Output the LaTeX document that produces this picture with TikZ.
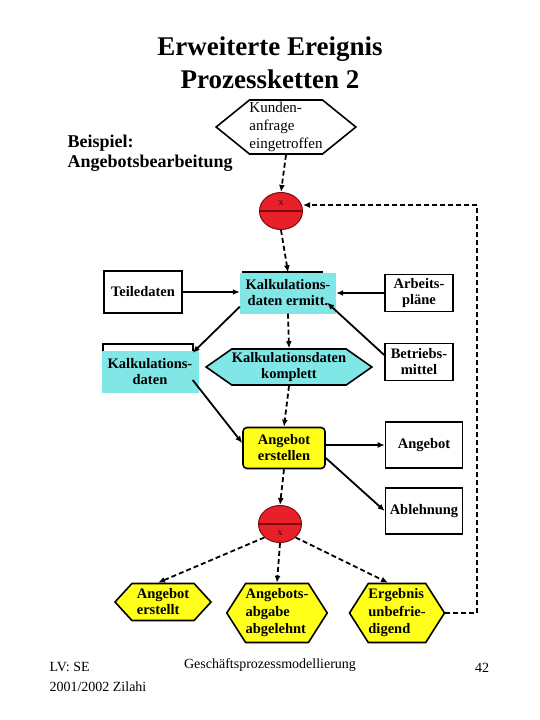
\documentclass[tikz,border=0pt]{standalone}
\usepackage{fontspec}
\setmainfont{Liberation Serif}
\usetikzlibrary{shapes.geometric, shapes.symbols, arrows.meta, positioning}
\definecolor{EpkRed}{HTML}{E8202A}
\definecolor{EpkDarkRed}{HTML}{7A0A0A}
\definecolor{EpkCyan}{HTML}{80E6E6}
\definecolor{EpkYellow}{HTML}{FFFF1A}

\begin{document}
\begin{tikzpicture}[x=1pt, y=-1pt, every node/.style={font=\fontsize{14.5}{16}\selectfont\bfseries},
    box/.style={draw,line width=1.6pt,fill=white,inner sep=0pt,align=center},
    func/.style={fill=EpkCyan,inner sep=0pt,align=center},
    event/.style={draw,line width=1.6pt,shape=signal,signal to=east and west,inner sep=0pt,align=left},
    xorc/.style={draw=EpkDarkRed,line width=1pt,fill=EpkRed,ellipse,minimum width=43pt,minimum height=37pt,inner sep=0pt},
    xtext/.style={font=\fontsize{10}{10}\selectfont\bfseries,text=EpkDarkRed},
    plain/.style={font=\fontsize{14}{20}\selectfont\mdseries,align=left},
    conn/.style={-{Latex[length=7pt,width=6pt]},line width=1.8pt},
    ctrl/.style={conn,dash pattern=on 5pt off 3pt}]
    \useasboundingbox(0,0)rectangle(540,720);
    % headings
    \node[font=\fontsize{27}{33}\selectfont\bfseries,align=center](title)at(270,63){Erweiterte Ereignis\\Prozessketten 2};
    \node[font=\fontsize{18}{20}\selectfont\bfseries,align=left,anchor=west](bsp)at(64,153){Beispiel:\\Angebotsbearbeitung};
    % start event and first xor
    \node[event,fill=white,minimum width=138pt,minimum height=54pt,signal pointer angle=78,font=\fontsize{15}{18}\selectfont\mdseries](kunde)at(286,127){Kunden-\\anfrage\\eingetroffen};
    \node[xorc](xa)at(281,211){};
    \draw[EpkDarkRed,line width=1.2pt](xa.west)--(xa.east);
    \node[xtext](xat)at(281,203){x};
    % function with its in- and outputs
    \draw[line width=1.6pt](243,272)rectangle(322,290);
    \node[func,minimum width=96pt,minimum height=41pt](kerm)at(288,293){Kalkulations-\\daten ermitt.};
    \node[box,minimum width=78pt,minimum height=42pt](teil)at(143,292){Teiledaten};
    \node[box,minimum width=68pt,minimum height=37pt](arb)at(419,293){Arbeits-\\pläne};
    \node[box,minimum width=68pt,minimum height=37pt](betr)at(419,362){Betriebs-\\mittel};
    \draw[line width=1.6pt](103,344)rectangle(193,365);
    \node[func,minimum width=97pt,minimum height=42pt](kdat)at(150,372){Kalkulations-\\daten};
    \node[event,fill=EpkCyan,minimum width=154pt,minimum height=36pt,signal pointer angle=70,align=center](kkom)at(289,367){Kalkulationsdaten\\komplett};
    % second function
    \node[box,fill=EpkYellow,rounded corners=4pt,minimum width=82pt,minimum height=41pt](aerst)at(284,448){Angebot\\erstellen};
    \node[box,minimum width=77pt,minimum height=46pt](ang)at(424,445){Angebot};
    \node[box,minimum width=77pt,minimum height=46pt](abl)at(424,511){Ablehnung};
    \node[xorc](xb)at(280,524){};
    \draw[EpkDarkRed,line width=1.2pt](xb.west)--(xb.east);
    \node[xtext](xbt)at(280,533){x};
    % end events
    \node[event,fill=EpkYellow,minimum width=96pt,minimum height=37pt,signal pointer angle=95](ha)at(163,602){Angebot\\erstellt};
    \node[event,fill=EpkYellow,minimum width=99pt,minimum height=59pt,signal pointer angle=115,font=\fontsize{14.5}{17.5}\selectfont\bfseries](hb)at(277,613){Angebots-\\abgabe\\abgelehnt};
    \node[event,fill=EpkYellow,minimum width=95pt,minimum height=59pt,signal pointer angle=115,font=\fontsize{14.5}{17.5}\selectfont\bfseries](hc)at(397,613){Ergebnis\\unbefrie-\\digend};
    \coordinate(back)at(477,613);
    % control flow
    \draw[ctrl](kunde.south)--(xa.north);
    \draw[ctrl](xa.south)--(kerm.north);
    \draw[ctrl](kerm.south)--(kkom.north);
    \draw[ctrl](kkom.south)--(aerst.north);
    \draw[ctrl](aerst.south)--(xb.north);
    \draw[ctrl](xb.south west)--([xshift=-5pt]ha.north);
    \draw[ctrl](xb.south)--(hb.north);
    \draw[ctrl](xb.south east)--([xshift=-9pt]hc.north);
    \draw[ctrl](hc.east)--(back)|-([yshift=6pt]xa.east);
    % information flow
    \draw[conn](teil.east)--(teil.east-|kerm.west);
    \draw[conn](arb.west)--(arb.west-|kerm.east);
    \draw[conn]([yshift=7pt]betr.west)--([xshift=-9pt,yshift=11pt]kerm.south east);
    \draw[conn]([yshift=7pt]kerm.south west)--([xshift=-6pt,yshift=-2pt]kdat.north east);
    \draw[conn]([xshift=-6pt,yshift=-8pt]kdat.east)--([yshift=5pt]aerst.west);
    \draw[conn](aerst.east|-ang.west)--(ang.west);
    \draw[conn]([yshift=-10pt]aerst.east)--(abl.west);
    % footer
    \node[plain,anchor=west](lv)at(46,677){LV: SE\\2001/2002 Zilahi};
    \node[plain](gpm)at(270,665){Geschäftsprozessmodellierung};
    \node[plain](page)at(482,668){42};
\end{tikzpicture}
\end{document}
